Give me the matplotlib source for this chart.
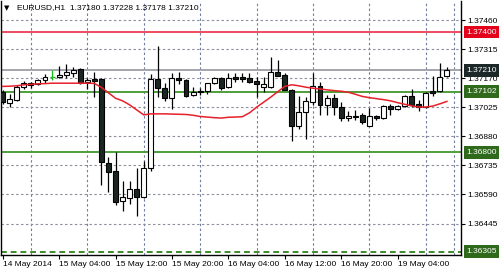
import numpy as np
from matplotlib import pyplot as plt
import matplotlib.transforms as mtransforms

# EURUSD H1 bars, 14 May 20:00 .. 19 May 11:00
opens = [1.37102, 1.37047, 1.37062, 1.37128, 1.37145, 1.37142, 1.37160, 1.37177, 1.37175, 1.37185,
         1.37198, 1.37216, 1.37150, 1.37167, 1.37167, 1.36747, 1.36708, 1.36559, 1.36572, 1.36619,
         1.36575, 1.36724, 1.37165, 1.37120, 1.37073, 1.37173, 1.37160, 1.37087, 1.37104, 1.37105,
         1.37145, 1.37173, 1.37128, 1.37177, 1.37175, 1.37170, 1.37156, 1.37128, 1.37128, 1.37200,
         1.37186, 1.37112, 1.36929, 1.37000, 1.37053, 1.37132, 1.37037, 1.37070, 1.37025, 1.36971,
         1.36980, 1.36987, 1.36932, 1.36982, 1.36971, 1.37032, 1.37017, 1.37032, 1.37082, 1.37042,
         1.37025, 1.37107, 1.37107, 1.37180]
highs = [1.37112, 1.37092, 1.37137, 1.37158, 1.37153, 1.37165, 1.37190, 1.37212, 1.37232, 1.37239,
         1.37224, 1.37222, 1.37170, 1.37203, 1.37170, 1.36776, 1.36803, 1.36659, 1.36655, 1.36721,
         1.36758, 1.37190, 1.37332, 1.37145, 1.37195, 1.37203, 1.37165, 1.37128, 1.37120, 1.37148,
         1.37178, 1.37178, 1.37195, 1.37198, 1.37198, 1.37195, 1.37178, 1.37178, 1.37274, 1.37261,
         1.37198, 1.37114, 1.37082, 1.37078, 1.37195, 1.37153, 1.37087, 1.37090, 1.37053, 1.37007,
         1.37012, 1.36995, 1.37020, 1.36987, 1.37037, 1.37042, 1.37038, 1.37087, 1.37115, 1.37062,
         1.37103, 1.37181, 1.37244, 1.37228]
lows = [1.37042, 1.37027, 1.37057, 1.37117, 1.37123, 1.37138, 1.37145, 1.37162, 1.37173, 1.37170,
        1.37178, 1.37143, 1.37117, 1.37074, 1.36635, 1.36600, 1.36539, 1.36505, 1.36542, 1.36485,
        1.36572, 1.36705, 1.37078, 1.37057, 1.37017, 1.37142, 1.37078, 1.37083, 1.37087, 1.37090,
        1.37142, 1.37112, 1.37120, 1.37153, 1.37153, 1.37148, 1.37078, 1.37103, 1.37120, 1.37181,
        1.37110, 1.36859, 1.36916, 1.36866, 1.37037, 1.36987, 1.36987, 1.36987, 1.36954, 1.36954,
        1.36962, 1.36942, 1.36929, 1.36959, 1.36965, 1.36987, 1.37012, 1.37028, 1.37025, 1.37008,
        1.37022, 1.37082, 1.37103, 1.37178]
closes = [1.37052, 1.37067, 1.37128, 1.37148, 1.37137, 1.37160, 1.37177, 1.37177, 1.37186, 1.37200,
          1.37211, 1.37148, 1.37162, 1.37158, 1.36752, 1.36702, 1.36554, 1.36575, 1.36619, 1.36575,
          1.36721, 1.37165, 1.37120, 1.37073, 1.37170, 1.37160, 1.37083, 1.37099, 1.37103, 1.37147,
          1.37173, 1.37120, 1.37170, 1.37167, 1.37165, 1.37153, 1.37140, 1.37142, 1.37200, 1.37183,
          1.37112, 1.36929, 1.37003, 1.37058, 1.37132, 1.37037, 1.37073, 1.37028, 1.36971, 1.36982,
          1.36977, 1.36951, 1.36982, 1.36971, 1.37032, 1.37017, 1.37032, 1.37082, 1.37037, 1.37028,
          1.37098, 1.37098, 1.37175, 1.37210]
# moving average (red line)
ma = [1.37129, 1.37130, 1.37132, 1.37137, 1.37139, 1.37142, 1.37143, 1.37145, 1.37145, 1.37145,
      1.37145, 1.37145, 1.37145, 1.37144, 1.37124, 1.37097, 1.37070, 1.37057, 1.37037, 1.37012,
      1.36987, 1.36992, 1.36992, 1.36992, 1.36991, 1.36990, 1.36989, 1.36985, 1.36979, 1.36976,
      1.36973, 1.36971, 1.36975, 1.36976, 1.36978, 1.36997, 1.37025, 1.37050, 1.37075, 1.37102,
      1.37129, 1.37137, 1.37132, 1.37125, 1.37120, 1.37116, 1.37112, 1.37108, 1.37105, 1.37100,
      1.37090, 1.37079, 1.37073, 1.37068, 1.37063, 1.37057, 1.37048, 1.37040, 1.37032, 1.37026,
      1.37026, 1.37031, 1.37042, 1.37054]

time_labels = ['14 May 2014', '15 May 04:00', '15 May 12:00', '15 May 20:00',
               '16 May 04:00', '16 May 12:00', '16 May 20:00', '19 May 04:00']
time_label_bars = [0, 8, 16, 24, 32, 40, 48, 56]
price_ticks = [1.37460, 1.37315, 1.37170, 1.37025, 1.36880, 1.36735, 1.36590, 1.36445]

levels = [1.37400, 1.37210, 1.37102, 1.36800, 1.36305]
level_line_colors = ['#f04a5e', '#a4a4ac', '#4f9e3c', '#4f9e3c', '#3e8a2c']
level_box_colors = ['#e3001b', '#1c2828', '#2f6a1c', '#2f6a1c', '#2f6a1c']
level_styles = ['-', '-', '-', '-', '--']

plt.rcParams['font.family'] = ['Liberation Sans', 'DejaVu Sans']

fig = plt.figure(figsize=(4.99, 2.70), dpi=100)
ax = fig.add_axes([1 / 499, 15 / 270, 460 / 499, 254 / 270])
ax.set_xlim(-0.24, 65.0)
ax.set_ylim(1.36288, 1.37555)

o = np.array(opens)
h = np.array(highs)
l = np.array(lows)
c = np.array(closes)
x = np.arange(len(o))

# levels
for lev, lc, ls in zip(levels, level_line_colors, level_styles):
    ax.axhline(lev, color=lc, lw=1.4, ls=ls, dashes=(3, 2) if ls == '--' else (None, None), zorder=1)

# candles
doji = o == c
ax.vlines(x[~doji], l[~doji], h[~doji], color='black', lw=0.9, zorder=3)
ax.vlines(x[doji], l[doji], h[doji], color='#10c010', lw=0.9, zorder=3)
ax.hlines(o[doji], x[doji] - 0.35, x[doji] + 0.35, color='#10c010', lw=0.9, zorder=3)
faces = np.where(c > o, 'white', '#1b2622')
ax.bar(x[~doji], np.abs(c - o)[~doji], bottom=np.minimum(o, c)[~doji], width=0.7,
       color=faces[~doji], edgecolor='black', linewidth=0.8, zorder=4)

ax.plot(x, ma, color='#e8202a', lw=1.1, zorder=5)

# axes / ticks
ax.yaxis.tick_right()
ax.set_yticks(price_ticks)
ax.set_yticklabels([f'{p:.5f}' for p in price_ticks])
ax.set_xticks(time_label_bars)
ax.set_xticklabels(time_labels, ha='left')
ax.set_xticks(range(4, 65, 4), minor=True)
ax.tick_params(axis='both', which='major', direction='out', length=3, width=0.8,
               labelsize=6, pad=1.5)
ax.tick_params(axis='x', which='minor', length=0)
ax.grid(axis='x', which='minor', color='#6f7ea0', ls=(0, (2.2, 2.2)), lw=0.8)
ax.grid(axis='y', which='major', color='#8a909c', ls=(0, (2.2, 2.2)), lw=0.8)
ax.set_axisbelow(True)
for s in ax.spines.values():
    s.set_linewidth(1)
ax.spines['top'].set_visible(False)

trans = mtransforms.blended_transform_factory(ax.transAxes, ax.transData)
for lev, bc in zip(levels, level_box_colors):
    ax.annotate(f'{lev:.5f}', xy=(1, lev), xycoords=trans, xytext=(4.0, 0),
                textcoords='offset points', ha='left', va='center', fontsize=6,
                color='white', annotation_clip=False,
                bbox=dict(boxstyle='square,pad=0.35', fc=bc, ec='none'))

title = f'EURUSD,H1  {opens[-1]:.5f} {highs[-1]:.5f} {lows[-1]:.5f} {closes[-1]:.5f}'
fig.text(4 / 499, 1 - 8 / 270, '\u25bc', fontsize=5, va='center', family='DejaVu Sans')
fig.text(17 / 499, 1 - 8 / 270, title, fontsize=6, va='center')

fig.savefig('out.png', dpi=100)
